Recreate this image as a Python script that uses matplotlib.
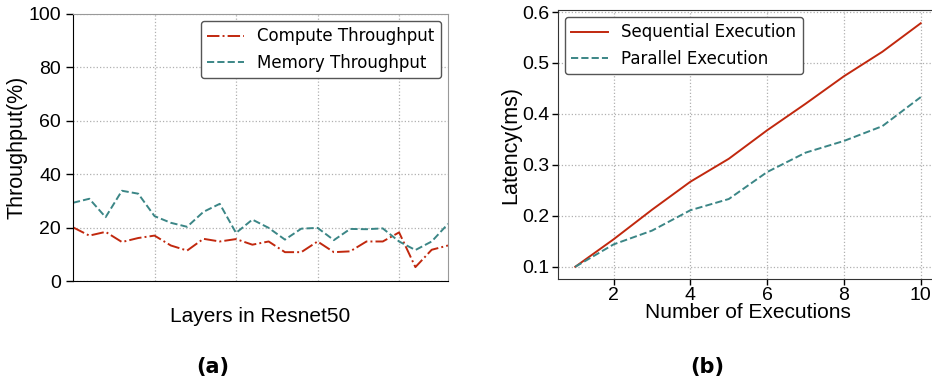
import matplotlib
matplotlib.use("Agg")
import matplotlib.pyplot as plt

# (a) throughput per layer of Resnet50
layers = list(range(24))
compute_tp = [20.1, 17.0, 18.4, 14.6, 16.1, 17.0, 13.3, 11.4, 15.8, 14.8, 15.7, 13.6,
              14.8, 10.8, 10.8, 14.8, 10.8, 11.1, 14.8, 14.8, 18.2, 5.2, 11.7, 13.3]
memory_tp = [29.3, 30.8, 23.9, 33.8, 32.7, 24.3, 21.8, 20.3, 25.9, 28.9, 18.0, 23.0,
             19.9, 15.5, 19.6, 19.9, 15.3, 19.5, 19.4, 19.7, 14.8, 11.6, 14.8, 21.4]

# (b) latency vs number of executions
n_exec = [1, 2, 3, 4, 5, 6, 7, 8, 9, 10]
sequential = [0.100, 0.154, 0.212, 0.267, 0.312, 0.368, 0.420, 0.474, 0.522, 0.578]
parallel = [0.100, 0.144, 0.171, 0.211, 0.233, 0.286, 0.324, 0.347, 0.376, 0.433]

RED = "#c1280e"
TEAL = "#3b8686"
LABEL_FONT = ["Liberation Sans", "DejaVu Sans"]

fig = plt.figure(figsize=(9.32, 3.85), dpi=100)

# ---- left panel ----
ax1 = fig.add_axes([73 / 932, 1 - 281 / 385, 375 / 932, 267 / 385])
ax1.plot(layers, compute_tp, color=RED, linestyle="-.", lw=1.4, label="Compute Throughput")
ax1.plot(layers, memory_tp, color=TEAL, linestyle="--", lw=1.4, label="Memory Throughput")
ax1.set_xlim(0, 23)
ax1.set_ylim(0, 100)
ax1.set_xticks([5, 10, 15, 20])
ax1.set_yticks([0, 20, 40, 60, 80, 100])
ax1.tick_params(axis="x", length=0, labelbottom=False)
ax1.tick_params(axis="y", length=5, width=1, labelsize=14)
for lbl in ax1.get_yticklabels():
    lbl.set_family(LABEL_FONT)
ax1.grid(True, color="#b0b0b0", linestyle=":", lw=0.9)
ax1.spines["left"].set_color("black")
ax1.spines["bottom"].set_color("black")
ax1.spines["top"].set_color("#999999")
ax1.spines["right"].set_color("#999999")
ax1.set_ylabel("Throughput(%)", fontsize=15.5, family=LABEL_FONT, labelpad=1)
ax1.set_xlabel("Layers in Resnet50", fontsize=15, family=LABEL_FONT, labelpad=19)
ax1.legend(loc="upper right", fontsize=12, frameon=True, edgecolor="#555555",
           framealpha=1, borderaxespad=0.4, handlelength=2.2)

# ---- right panel ----
ax2 = fig.add_axes([558 / 932, 1 - 279 / 385, 380 / 932, 269 / 385])
ax2.plot(n_exec, sequential, color=RED, linestyle="-", lw=1.4, label="Sequential Execution")
ax2.plot(n_exec, parallel, color=TEAL, linestyle="--", lw=1.4, label="Parallel Execution")
ax2.set_xlim(0.55, 10.45)
ax2.set_ylim(0.076, 0.604)
ax2.set_xticks([2, 4, 6, 8, 10])
ax2.set_yticks([0.1, 0.2, 0.3, 0.4, 0.5, 0.6])
ax2.tick_params(length=4, width=1, labelsize=14, pad=2)
for lbl in ax2.get_xticklabels() + ax2.get_yticklabels():
    lbl.set_family(LABEL_FONT)
ax2.grid(True, color="#b0b0b0", linestyle=":", lw=0.9)
for sp in ax2.spines.values():
    sp.set_color("#333333")
ax2.set_ylabel("Latency(ms)", fontsize=15.5, family=LABEL_FONT, labelpad=1)
ax2.set_xlabel("Number of Executions", fontsize=15, family=LABEL_FONT, labelpad=-1)
ax2.legend(loc="upper left", fontsize=12, frameon=True, edgecolor="#555555",
           framealpha=1, borderaxespad=0.4, handlelength=2.2)

fig.text(213 / 932, 1 - 367 / 385, "(a)", fontsize=15, fontweight="bold",
         ha="center", va="center")
fig.text(707 / 932, 1 - 367 / 385, "(b)", fontsize=15, fontweight="bold",
         ha="center", va="center")

fig.savefig("out.png", dpi=100)
plt.close(fig)
